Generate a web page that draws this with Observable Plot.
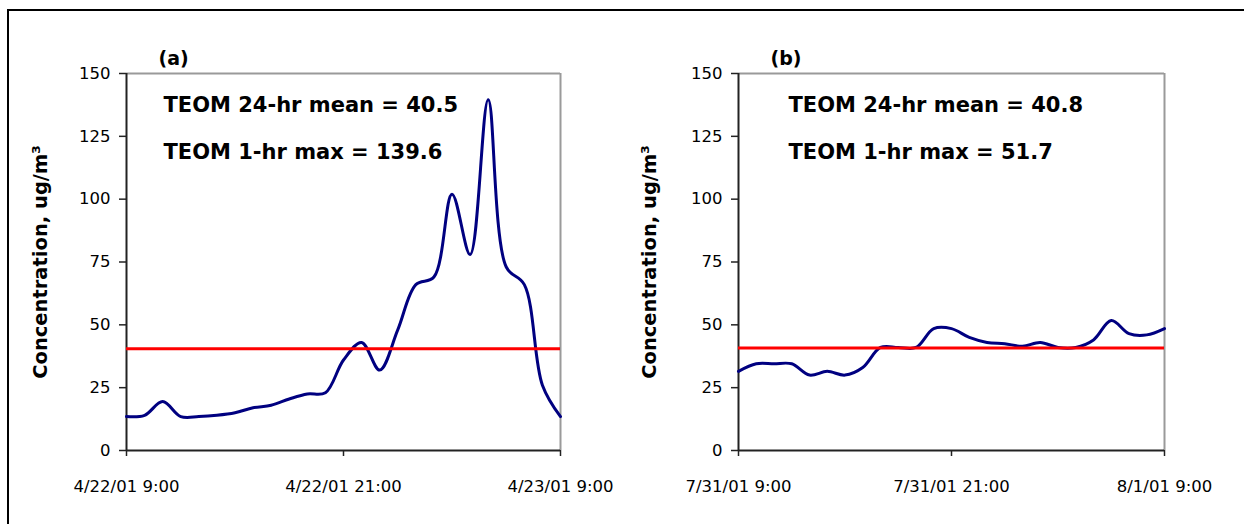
<!DOCTYPE html>
<html>
<head>
<meta charset="utf-8">
<script src="https://cdn.jsdelivr.net/npm/d3@7"></script>
<script src="https://cdn.jsdelivr.net/npm/@observablehq/plot@0.6"></script>
<style>
  html, body { margin: 0; padding: 0; background: #fff; overflow: hidden; }
  #wrap { position: relative; width: 1244px; height: 524px; overflow: hidden; }
  #border { position: absolute; left: 7px; top: 9px; width: 1300px; height: 600px;
            border-left: 2px solid #000; border-top: 2px solid #000; }
  .panel { position: absolute; top: 0; }
</style>
</head>
<body>
<div id="wrap">
  <div id="border"></div>
  <div id="panelA" class="panel" style="left:0px"></div>
  <div id="panelB" class="panel" style="left:620px"></div>
</div>
<script>
// Hours elapsed since the start of each 24-hour sampling window
const hours = [0, 1, 2, 3, 4, 5, 6, 7, 8, 9, 10, 11, 12, 13, 14, 15, 16, 17, 18, 19, 20, 21, 22, 23, 24];

// (a) 4/22/01 9:00 – 4/23/01 9:00, hourly TEOM PM concentration (ug/m3)
const concA = [13.5, 14, 19.5, 13.5, 13.5, 14, 15, 17, 18, 20.5, 22.5, 23, 36, 43, 32, 48, 66, 69, 102, 78, 139.6, 73, 66, 26, 13.5];
const meanA = 40.5;
const startA = Date.UTC(2001, 3, 22, 9);
const tickLabelsA = ["4/22/01 9:00", "4/22/01 21:00", "4/23/01 9:00"];

// (b) 7/31/01 9:00 – 8/1/01 9:00
const concB = [31.5, 34.5, 34.5, 34.5, 30, 31.5, 30, 33, 41, 41, 41, 48.5, 48.5, 45, 43, 42.5, 41.5, 43, 41, 41, 44, 51.7, 46.5, 46, 48.5];
const meanB = 40.8;
const startB = Date.UTC(2001, 6, 31, 9);
const tickLabelsB = ["7/31/01 9:00", "7/31/01 21:00", "8/1/01 9:00"];

const tickHours = [0, 12, 24];
const yTicks = [0, 25, 50, 75, 100, 125, 150];
const yTitle = "Concentration, ug/m³";

const HOUR = 3600e3;

function panel({tag, start, conc, mean, tickLabels, width, marginLeft, marginRight, textDx, titleDx}) {
  const rows = hours.map((h, i) => ({t: new Date(start + h * HOUR), v: conc[i]}));
  const t0 = new Date(start), t1 = new Date(start + 24 * HOUR);
  const tickDates = tickHours.map(h => new Date(start + h * HOUR));
  const fmt = new Map(tickDates.map((d, i) => [+d, tickLabels[i]]));
  const notes = `TEOM 24-hr mean = ${mean}\nTEOM 1-hr max = ${d3.max(conc)}`;
  return Plot.plot({
    width, height: 524,
    marginLeft, marginRight, marginTop: 73, marginBottom: 74,
    style: {fontFamily: "DejaVu Sans", fontSize: "16px", color: "#000", background: "transparent", overflow: "visible"},
    x: {type: "utc", domain: [t0, t1]},
    y: {domain: [0, 150]},
    marks: [
      // light frame on top and right
      Plot.ruleY([150], {stroke: "#9a9a9a", strokeWidth: 2}),
      Plot.ruleX([t1], {stroke: "#9a9a9a", strokeWidth: 2}),
      // axes
      Plot.axisY(yTicks, {tickSize: 7, tickPadding: 9, stroke: "#222", strokeWidth: 1.5, label: null, fontSize: 16.5}),
      Plot.axisX(tickDates, {tickSize: 6, tickPadding: 24, stroke: "#222", strokeWidth: 1.5, label: null, fontSize: 16.5,
        tickFormat: d => fmt.get(+d)}),
      Plot.ruleX([t0], {stroke: "#222", strokeWidth: 2}),
      Plot.ruleY([0], {stroke: "#222", strokeWidth: 2}),
      // concentration trace
      Plot.line(rows, {x: "t", y: "v", stroke: "#000080", strokeWidth: 3, curve: "catmull-rom"}),
      // 24-hour mean
      Plot.ruleY([mean], {stroke: "#ff0000", strokeWidth: 3}),
      // annotations
      Plot.text([notes], {text: d => d, frameAnchor: "top-left", dx: textDx, dy: 6, lineAnchor: "top",
        textAnchor: "start", lineHeight: 2.2, fontSize: 21, fontWeight: "bold"}),
      Plot.text([tag], {text: d => d, frameAnchor: "top-left", dx: 32, dy: -9, lineAnchor: "bottom",
        textAnchor: "start", fontSize: 19, fontWeight: "bold"}),
      Plot.text([yTitle], {text: d => d, frameAnchor: "left", dx: titleDx, rotate: -90, lineAnchor: "bottom",
        textAnchor: "middle", fontSize: 19.5, fontWeight: "bold"})
    ]
  });
}

document.getElementById("panelA").append(panel({
  tag: "(a)", start: startA, conc: concA, mean: meanA, tickLabels: tickLabelsA,
  width: 620, marginLeft: 126, marginRight: 60, textDx: 37, titleDx: -80
}));
document.getElementById("panelB").append(panel({
  tag: "(b)", start: startB, conc: concB, mean: meanB, tickLabels: tickLabelsB,
  width: 624, marginLeft: 118, marginRight: 80, textDx: 50, titleDx: -83
}));
</script>
</body>
</html>
